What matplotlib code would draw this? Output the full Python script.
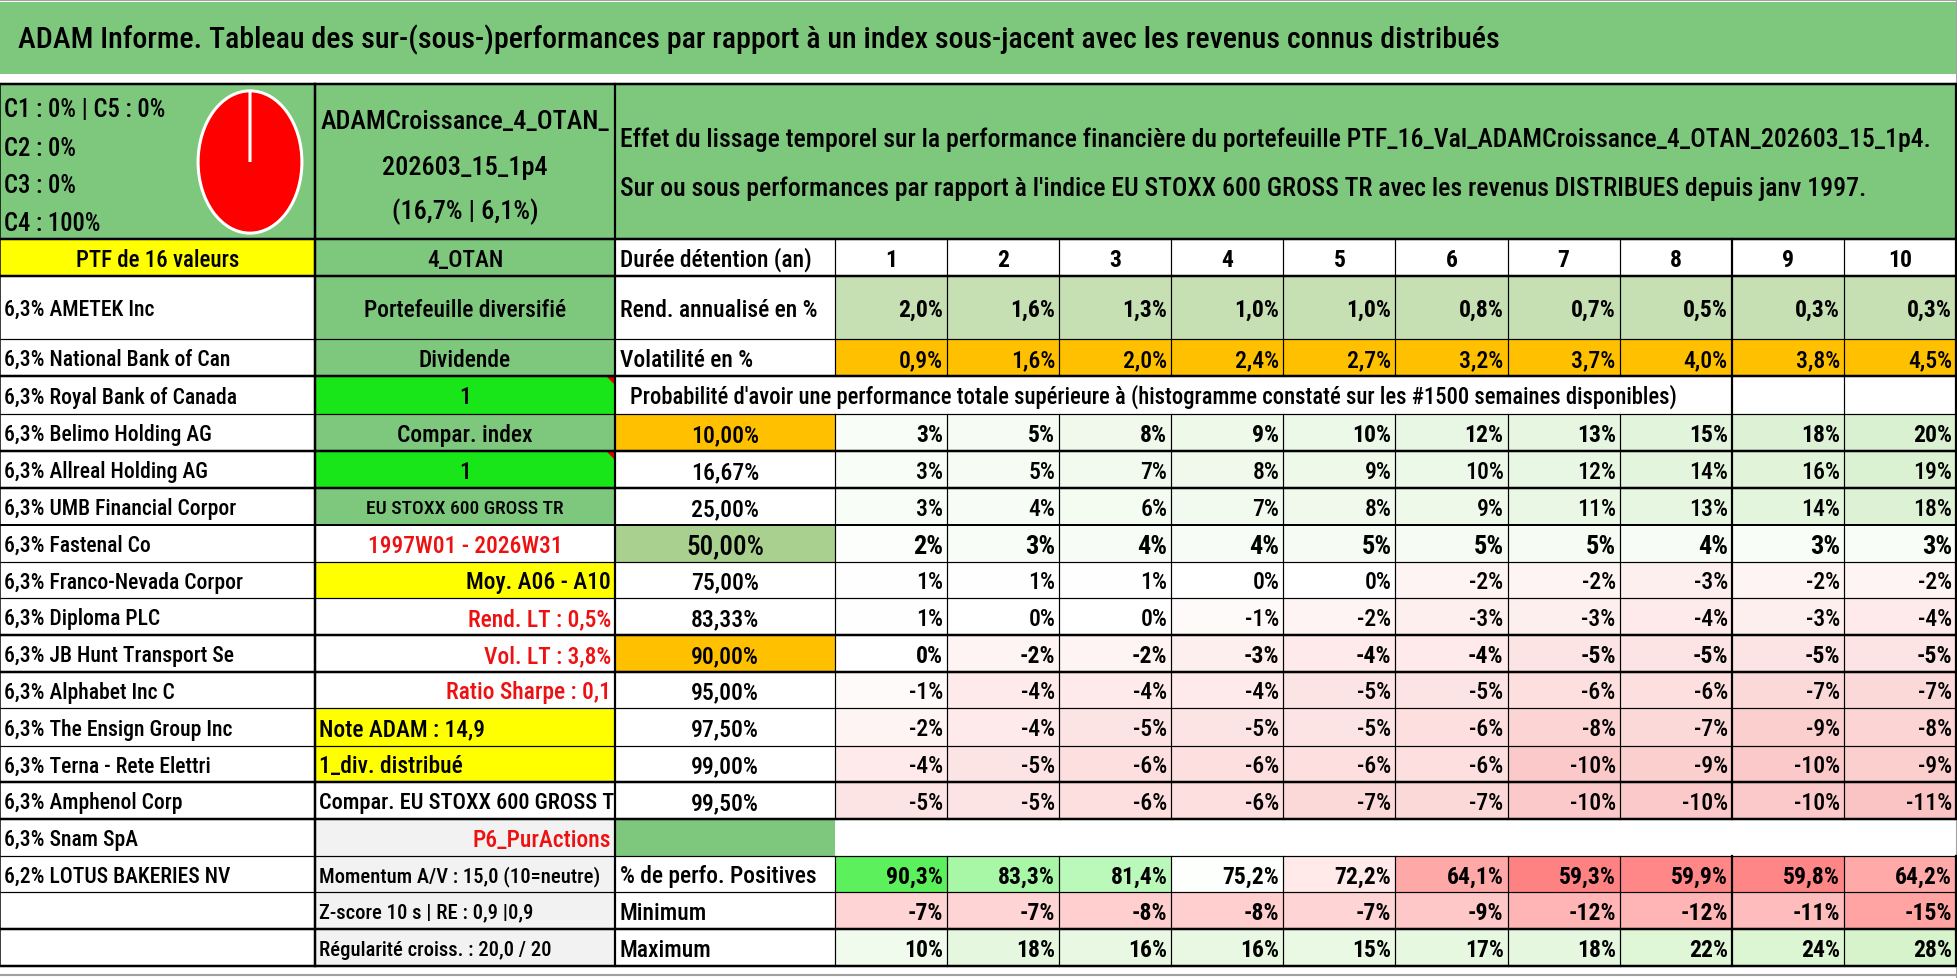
import matplotlib
matplotlib.use('Agg')
from matplotlib import pyplot as plt
from matplotlib import font_manager
from matplotlib.patches import Rectangle, Polygon
from matplotlib.transforms import Bbox, TransformedBbox

# ---- data ----
title = ("ADAM Informe. Tableau des sur-(sous-)performances par rapport à un index "
         "sous-jacent avec les revenus connus distribués")
subtitle_1 = ("Effet du lissage temporel sur la performance financière du portefeuille "
              "PTF_16_Val_ADAMCroissance_4_OTAN_202603_15_1p4.")
subtitle_2 = ("Sur ou sous performances par rapport à l'indice EU STOXX 600 GROSS TR avec "
              "les revenus DISTRIBUES depuis janv 1997.")
prob_title = ("Probabilité d'avoir une performance totale supérieure à (histogramme "
              "constaté sur les #1500 semaines disponibles)")

pie_classes = ["C1", "C2", "C3", "C4", "C5"]
pie_shares = [0, 0, 0, 100, 0]
pie_lines = ["C1 : 0% | C5 : 0%", "C2 : 0%", "C3 : 0%", "C4 : 100%"]

ptf_name = ["ADAMCroissance_4_OTAN_", "202603_15_1p4", "(16,7% | 6,1%)"]

weights = [6.3, 6.3, 6.3, 6.3, 6.3, 6.3, 6.3, 6.3, 6.3, 6.3, 6.3, 6.3, 6.3, 6.3, 6.3, 6.2]
holdings = ["AMETEK Inc", "National Bank of Can", "Royal Bank of Canada",
            "Belimo Holding AG", "Allreal Holding AG", "UMB Financial Corpor",
            "Fastenal Co", "Franco-Nevada Corpor", "Diploma PLC",
            "JB Hunt Transport Se", "Alphabet Inc C", "The Ensign Group Inc",
            "Terna - Rete Elettri", "Amphenol Corp", "Snam SpA", "LOTUS BAKERIES NV"]

side_labels = ["4_OTAN", "Portefeuille diversifié", "Dividende", "1", "Compar. index", "1",
               "EU STOXX 600 GROSS TR", "1997W01 - 2026W31", "Moy. A06 - A10",
               "Rend. LT : 0,5%", "Vol. LT : 3,8%", "Ratio Sharpe : 0,1",
               "Note ADAM : 14,9", "1_div. distribué", "Compar. EU STOXX 600 GROSS TR",
               "P6_PurActions", "Momentum A/V : 15,0 (10=neutre)",
               "Z-score 10 s | RE : 0,9 |0,9", "Régularité croiss. : 20,0 / 20"]

years = [1, 2, 3, 4, 5, 6, 7, 8, 9, 10]
rend = [2.0, 1.6, 1.3, 1.0, 1.0, 0.8, 0.7, 0.5, 0.3, 0.3]
vol = [0.9, 1.6, 2.0, 2.4, 2.7, 3.2, 3.7, 4.0, 3.8, 4.5]
prob_levels = [10.0, 16.67, 25.0, 50.0, 75.0, 83.33, 90.0, 95.0, 97.5, 99.0, 99.5]
prob_table = [
    [3, 5, 8, 9, 10, 12, 13, 15, 18, 20],
    [3, 5, 7, 8, 9, 10, 12, 14, 16, 19],
    [3, 4, 6, 7, 8, 9, 11, 13, 14, 18],
    [2, 3, 4, 4, 5, 5, 5, 4, 3, 3],
    [1, 1, 1, 0, 0, -2, -2, -3, -2, -2],
    [1, 0, 0, -1, -2, -3, -3, -4, -3, -4],
    [0, -2, -2, -3, -4, -4, -5, -5, -5, -5],
    [-1, -4, -4, -4, -5, -5, -6, -6, -7, -7],
    [-2, -4, -5, -5, -5, -6, -8, -7, -9, -8],
    [-4, -5, -6, -6, -6, -6, -10, -9, -10, -9],
    [-5, -5, -6, -6, -7, -7, -10, -10, -10, -11],
]
pct_positive = [90.3, 83.3, 81.4, 75.2, 72.2, 64.1, 59.3, 59.9, 59.8, 64.2]
minimum = [-7, -7, -8, -8, -7, -9, -12, -12, -11, -15]
maximum = [10, 18, 16, 16, 15, 17, 18, 22, 24, 28]

# ---- font: narrow sans like the Excel export ----
names = {f.name for f in font_manager.fontManager.ttflist}
FONT = 'Liberation Sans'
for cand in ['Liberation Sans Narrow', 'Roboto Condensed', 'Open Sans Condensed']:
    if cand in names:
        FONT = cand
        break
plt.rcParams['font.family'] = [FONT, 'DejaVu Sans']
REG = 'medium'
GROW = 1.05   # the sheet font is taller than ours for the same width

GREEN = '#7ec87e'
LIME = '#19e619'
YELLOW = '#ffff00'
ORANGE = '#ffc000'
GREY = '#f2f2f2'
RED = '#ee1111'

# layout (pixels)
W, H = 1958, 979
xa, xb, xc, xv = 0, 315, 615, 835
col_w = (1956 - xv) / 10
xs = [xv + i * col_w for i in range(11)]
ys = [85, 240, 277, 340, 377, 415, 452, 489, 526, 563, 599, 636, 673,
      709, 747, 783, 820, 857, 893, 930, 967]
edge_lw = [2.5, 2.5, 2.5, 1.2, 2.5, 1.2, 2.5, 2.5, 2.0, 1.2, 1.2, 2.5, 2.5,
           1.2, 1.2, 2.5, 2.5, 1.2, 1.2, 2.5, 2.5]

fig = plt.figure(figsize=(W / 100, H / 100), dpi=100)
ax = fig.add_axes([0, 0, 1, 1])
ax.set_xlim(0, W)
ax.set_ylim(H, 0)
ax.axis('off')
renderer = fig.canvas.get_renderer()


def fitted(sample, width_px, weight=REG):
    # font size that gives the sample string the width it has in the sheet
    t = ax.text(0, 0, sample, fontsize=20, fontweight=weight)
    w = t.get_window_extent(renderer).width
    t.remove()
    return 20 * width_px / w


S_TITLE = fitted(title, 1485)
S_SUB = fitted(subtitle_1, 1314)
S_PROB = fitted(prob_title, 1049)
S_NAME = fitted("6,3% Franco-Nevada Corpor", 228) * GROW
S_HEAD = fitted("PTF de 16 valeurs", 156) * GROW
S_LAB = fitted("Portefeuille diversifié", 193) * GROW
S_C = fitted("C1 : 0% | C5 : 0%", 154) * GROW
S_PTF = fitted("ADAMCroissance_4_OTAN_", 288)
S_SMALL = fitted("Momentum A/V : 15,0 (10=neutre)", 280)
S_STOXX = fitted("EU STOXX 600 GROSS TR", 188) * GROW
S_VALB = fitted("90,3%", 54, 'bold') * GROW
S_VAL = fitted("0,9%", 42) * GROW


def box(x0, x1, r, color):
    ax.add_patch(Rectangle((x0, ys[r]), x1 - x0, ys[r + 1] - ys[r],
                           facecolor=color, edgecolor='none', zorder=1))


def put(x, r, s, size, ha='left', weight=REG, color='black', yc=None):
    if yc is None:
        yc = (ys[r] + ys[r + 1]) / 2
    base = yc + 0.355 * size * 100 / 72
    return ax.text(x, base, s, fontsize=size, ha=ha, va='baseline',
                   fontweight=weight, color=color, zorder=5)


def pct1(v):
    return f"{v:.1f}".replace('.', ',') + '%'


def pct0(v):
    return f"{int(v)}%"


def blend(hexcol, t):
    t = max(0.0, min(1.0, t))
    c = matplotlib.colors.to_rgb(hexcol)
    return tuple(1 - t * (1 - ci) for ci in c)


# ---- title band ----
ax.add_patch(Rectangle((0, 3), 1956, 72, facecolor=GREEN, edgecolor='none'))
ax.text(18, 38 + 0.355 * S_TITLE * 100 / 72, title, fontsize=S_TITLE, va='baseline',
        ha='left', fontweight=REG)

# ---- backgrounds ----
box(xa, xc, 0, GREEN)
box(xc, 1956, 0, GREEN)
box(xa, xb, 1, YELLOW)
b_colors = [GREEN, GREEN, GREEN, LIME, GREEN, LIME, GREEN, 'white', YELLOW, 'white',
            'white', 'white', YELLOW, YELLOW, 'white', GREY, GREY, GREY, GREY]
for i, c in enumerate(b_colors):
    box(xb, xc, i + 1, c)

level_colors = [ORANGE, 'white', 'white', '#a9d08e', 'white', 'white', ORANGE,
                'white', 'white', 'white', 'white']
for i, c in enumerate(level_colors):
    box(xc, xv, 5 + i, c)
box(xc, xv, 16, GREEN)

for j in range(10):
    box(xs[j], xs[j + 1], 2, '#c6e0b4')
    box(xs[j], xs[j + 1], 3, ORANGE)

pmax = max(max(r) for r in prob_table)
pmin = min(min(r) for r in prob_table)
for i, row in enumerate(prob_table):
    for j, v in enumerate(row):
        c = blend('#d9f1d0', v / pmax) if v > 0 else blend('#fbc4c4', v / pmin)
        box(xs[j], xs[j + 1], 5 + i, c)

mid = 75.0
for j, v in enumerate(pct_positive):
    if v >= mid:
        c = blend('#5cf05c', (v - mid) / (max(pct_positive) - mid))
    else:
        c = blend('#ff8282', (mid - v) / (mid - min(pct_positive)))
    box(xs[j], xs[j + 1], 17, c)
for j, v in enumerate(minimum):
    box(xs[j], xs[j + 1], 18, blend('#ffa3a3', v / min(minimum)))
for j, v in enumerate(maximum):
    box(xs[j], xs[j + 1], 19, blend('#d6f3cc', v / max(maximum)))

# comment markers (red corner triangles)
for r in (4, 6):
    ax.add_patch(Polygon([(xc - 9, ys[r]), (xc, ys[r]), (xc, ys[r] + 9)],
                         facecolor='#e00000', edgecolor='none', zorder=3))

# ---- grid lines ----
for y, lw in zip(ys, edge_lw):
    ax.plot([0, 1956], [y, y], color='black', lw=lw * 0.72, solid_capstyle='butt', zorder=4)
for x, lw in ((0, 1.5), (xb, 2.5), (xc, 2.2)):
    ax.plot([x, x], [ys[0], ys[-1]], color='black', lw=lw * 0.72, zorder=4)
spans = [(ys[1], ys[4]), (ys[5], ys[16]), (ys[17], ys[20])]
for k, x in enumerate(xs):
    lw = 2.2 if k in (8, 10) else 1.2
    segs = list(spans)
    if k >= 8:
        segs = [(ys[1], ys[16]), (ys[17], ys[20])]
    if k == 10:
        segs = [(ys[0], ys[16]), (ys[17], ys[20])]
    for a, b in segs:
        ax.plot([x, x], [a, b], color='black', lw=lw * 0.72, zorder=4)

# sheet window edges
ax.plot([0, W], [1, 1], color='#a0a0a0', lw=1.5)
ax.plot([0, W], [976, 976], color='#a0a0a0', lw=1.5)
ax.plot([1957, 1957], [0, 979], color='#a0a0a0', lw=1.5)

# ---- pie of classes ----
pax = fig.add_axes([(250 - 54) / W, 1 - (163 + 74) / H, 108 / W, 148 / H])
pax.pie(pie_shares, colors=['#4472c4', '#ed7d31', '#a5a5a5', '#ff0000', '#5b9bd5'],
        startangle=90, counterclock=False,
        wedgeprops=dict(edgecolor='white', linewidth=2.2))
pax.set_aspect('auto')
pax.set_xlim(-1.04, 1.04)
pax.set_ylim(-1.04, 1.04)
pax.axis('off')

# ---- texts: column A ----
for line, yc in zip(pie_lines, [108, 147, 184, 222]):
    put(4, 0, line, S_C, yc=yc)
put((xa + xb) / 2, 1, "PTF de 16 valeurs", S_HEAD, ha='center')
for i, (w, n) in enumerate(zip(weights, holdings)):
    put(4, 2 + i, f"{w:.1f}".replace('.', ',') + "% " + n, S_NAME)

# ---- texts: column B ----
for line, yc in zip(ptf_name, [120, 166, 210]):
    put((xb + xc) / 2, 0, line, S_PTF, ha='center', yc=yc)
b_style = ['c', 'c', 'c', 'c', 'c', 'c', 'c', 'cr', 'r', 'rr', 'rr', 'rr', 'l', 'l', 'l',
           'rr', 'l', 'l', 'l']
b_size = [S_LAB, S_LAB, S_LAB, S_LAB, S_LAB, S_LAB, S_STOXX, S_LAB, S_LAB, S_LAB, S_LAB,
          S_LAB, S_LAB, S_LAB, S_LAB / GROW, S_LAB, S_SMALL, S_SMALL, S_SMALL]
for i, (s, st, sz) in enumerate(zip(side_labels, b_style, b_size)):
    r = i + 1
    col = RED if st in ('cr', 'rr') else 'black'
    if st.startswith('c'):
        put((xb + xc) / 2, r, s, sz, ha='center', color=col)
    elif st.startswith('r'):
        put(xc - 4, r, s, sz, ha='right', color=col)
    else:
        t = put(xb + 4, r, s, sz, color=col)
        cell = Bbox.from_extents(xb, ys[r], xc - 1, ys[r + 1])
        t.set_clip_box(TransformedBbox(cell, ax.transData))
        t.set_clip_on(True)

# ---- texts: column C + header ----
put(620, 0, subtitle_1, S_SUB, yc=138)
put(620, 0, subtitle_2, S_SUB, yc=187)
put(xc + 5, 1, "Durée détention (an)", S_LAB)
put(xc + 5, 2, "Rend. annualisé en %", S_LAB)
put(xc + 5, 3, "Volatilité en %", S_LAB)
put(xc + 15, 4, prob_title, S_PROB)
for i, lv in enumerate(prob_levels):
    s = f"{lv:.2f}".replace('.', ',') + '%'
    put((xc + xv) / 2, 5 + i, s, S_VAL * (1.15 if i == 3 else 1.0), ha='center')
put(xc + 5, 17, "% de perfo. Positives", S_LAB)
put(xc + 5, 18, "Minimum", S_LAB)
put(xc + 5, 19, "Maximum", S_LAB)

# ---- texts: value grid ----
for j in range(10):
    cx = (xs[j] + xs[j + 1]) / 2
    rx = xs[j + 1] - 4
    put(cx, 1, str(years[j]), S_VALB, ha='center', weight='bold')
    put(rx, 2, pct1(rend[j]), S_VALB, ha='right', weight='bold')
    put(rx, 3, pct1(vol[j]), S_VAL, ha='right')
    for i, row in enumerate(prob_table):
        bold = i in (0, 3, 6)
        size = (S_VALB if bold else S_VAL) * (1.12 if i == 3 else 1.0)
        put(rx, 5 + i, pct0(row[j]), size, ha='right', weight='bold' if bold else REG)
    put(rx, 17, pct1(pct_positive[j]), S_VALB, ha='right', weight='bold')
    put(rx, 18, pct0(minimum[j]), S_VALB, ha='right', weight='bold')
    put(rx, 19, pct0(maximum[j]), S_VALB, ha='right', weight='bold')

fig.savefig('out.png', dpi=100)
